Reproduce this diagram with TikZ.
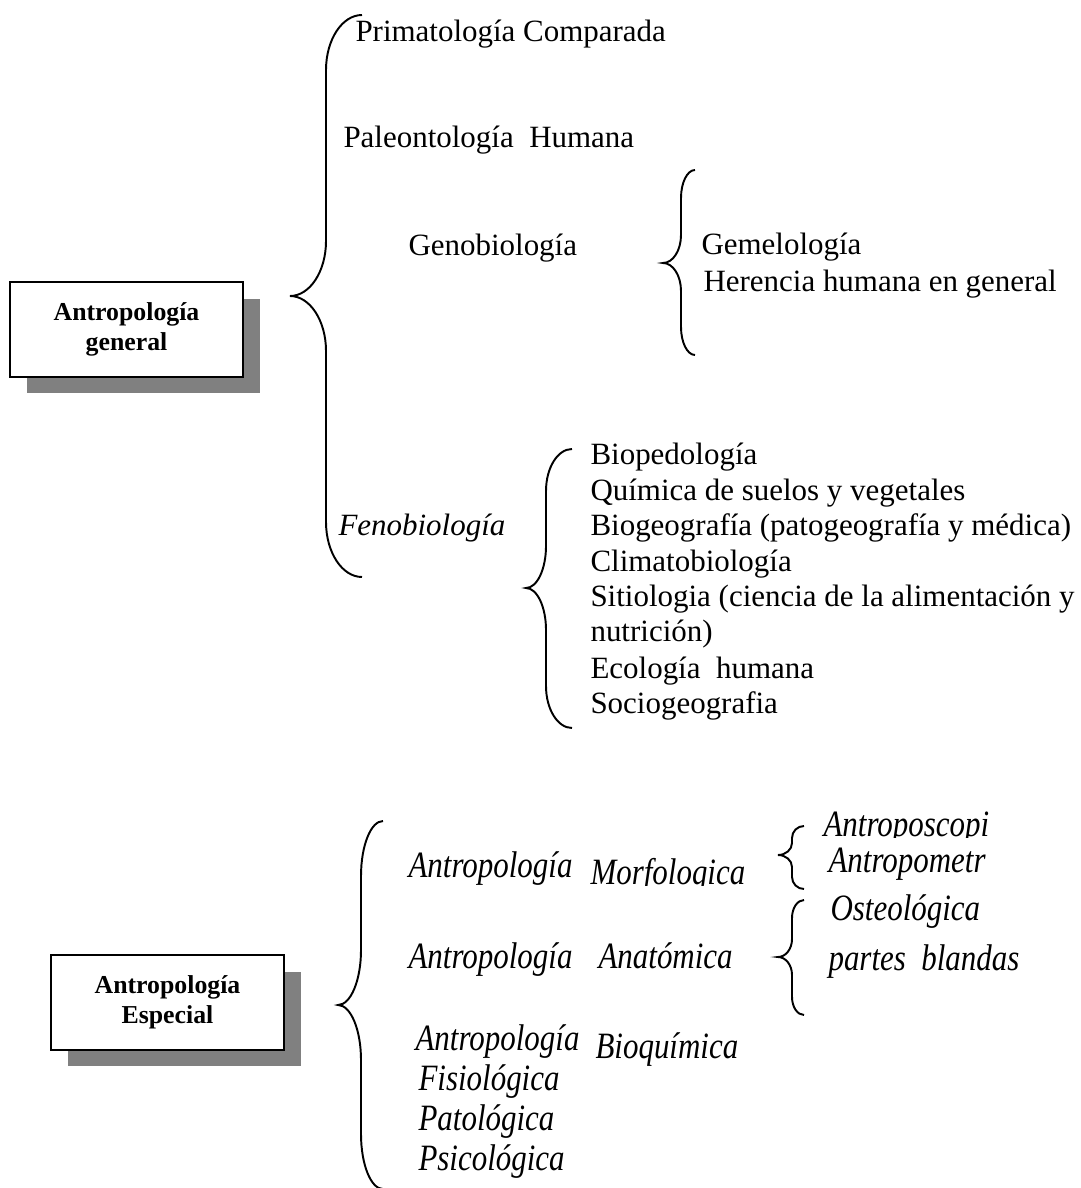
\documentclass[tikz,border=0pt]{standalone}
\usepackage{fontspec}
\setmainfont{Liberation Serif}
\usetikzlibrary{positioning, shadows}

\definecolor{shadowgray}{RGB}{128,128,128}

% Word-like curly brace: tip x, line x, end x, top y, tip y, bottom y, radius
\newcommand{\wbrace}[7]{%
  \draw[curly] (#3,#4) .. controls ({#3-0.552*(#3-#2)},#4) and (#2,{#4+0.448*#7}) .. (#2,{#4+#7})
    -- (#2,{#5-#7}) .. controls (#2,{#5-0.448*#7}) and ({#1+0.552*(#2-#1)},#5) .. (#1,#5)
    .. controls ({#1+0.552*(#2-#1)},#5) and (#2,{#5+0.448*#7}) .. (#2,{#5+#7})
    -- (#2,{#6-#7}) .. controls (#2,{#6-0.448*#7}) and ({#3-0.552*(#3-#2)},#6) .. (#3,#6);}
% stretched italic used in the lower half
\newcommand{\stit}[1]{\scalebox{1.0}[1.2]{\itshape #1}}

\begin{document}
\begin{tikzpicture}[
    x=0.3876pt, y=-0.3876pt,
    box/.style={draw, fill=white, line width=0.7pt, minimum width=90.5pt, minimum height=36.8pt,
      align=center, font=\bfseries\fontsize{10}{11.6}\selectfont,
      drop shadow={shadow xshift=6.6pt, shadow yshift=-6.4pt, fill=shadowgray, opacity=1}},
    item/.style={anchor=base west, inner sep=0pt, font=\fontsize{12}{13.8}\selectfont},
    curly/.style={line width=0.75pt}
]
\useasboundingbox (0,0) rectangle (1081,1188);

% Boxes
\node (general) [box] at (126.5,329.5) {Antropología\\general};
\node (especial) [box] at (167.5,1002.5) {Antropología\\Especial};

% General branch
\node (prima) [item] at (355,42) {Primatología Comparada};
\node (paleo) [item] at (343,148) {Paleontología~ Humana};
\node (geno) [item] at (408,256) {Genobiología};
\node (gemelo) [item] at (701,255) {Gemelología};
\node (herencia) [item] at (703,292) {Herencia humana en general};
\node (feno) [item] at (338,535) {\itshape Fenobiología};

\node (biopedo) [item] at (590,464) {Biopedología};
\node (quimica) [item] at (590,500) {Química de suelos y vegetales};
\node (biogeo) [item] at (590,535) {Biogeografía (patogeografía y médica)};
\node (climato) [item] at (590,571) {Climatobiología};
\node (sitio) [item] at (590,606) {Sitiologia (ciencia de la alimentación y};
\node (nutri) [item] at (590,641) {nutrición)};
\node (ecolo) [item] at (590,678) {Ecología~ humana};
\node (socio) [item] at (590,713) {Sociogeografia};

% Especial branch
\node (morfA) [item] at (408,877) {\stit{Antropología}};
\begin{scope}
  \clip (580,820) rectangle (770,885);
  \node (morfB) [item] at (590,884) {\stit{Morfologica}};
\end{scope}
\begin{scope}
  \clip (815,790) rectangle (1081,837);
  \node (scopi) [item] at (823,836) {\stit{Antroposcopi}};
\end{scope}
\node (metr) [item] at (828,872) {\stit{Antropometr}};
\node (osteo) [item] at (830,920) {\stit{Osteológica}};
\node (blandas) [item] at (828,970) {\stit{partes~ blandas}};
\node (anatA) [item] at (408,968) {\stit{Antropología}};
\node (anatB) [item] at (598,968) {\stit{Anatómica}};
\node (bioA) [item] at (415,1050) {\stit{Antropología}};
\node (bioB) [item] at (595,1058) {\stit{Bioquímica}};
\node (fisio) [item] at (418,1090) {\stit{Fisiológica}};
\node (pato) [item] at (418,1130) {\stit{Patológica}};
\node (psico) [item] at (418,1170) {\stit{Psicológica}};

% Braces
\wbrace{290}{326}{362}{15}{296}{577}{55}
\wbrace{663}{681}{695}{170}{263}{355}{28}
\wbrace{526}{546}{572}{449}{588}{728}{42}
\wbrace{338}{361}{383}{821}{1005}{1189}{55}
\wbrace{778}{792}{804}{826}{855}{889}{12}
\wbrace{778}{792}{804}{900}{957}{1015}{18}

\end{tikzpicture}
\end{document}
